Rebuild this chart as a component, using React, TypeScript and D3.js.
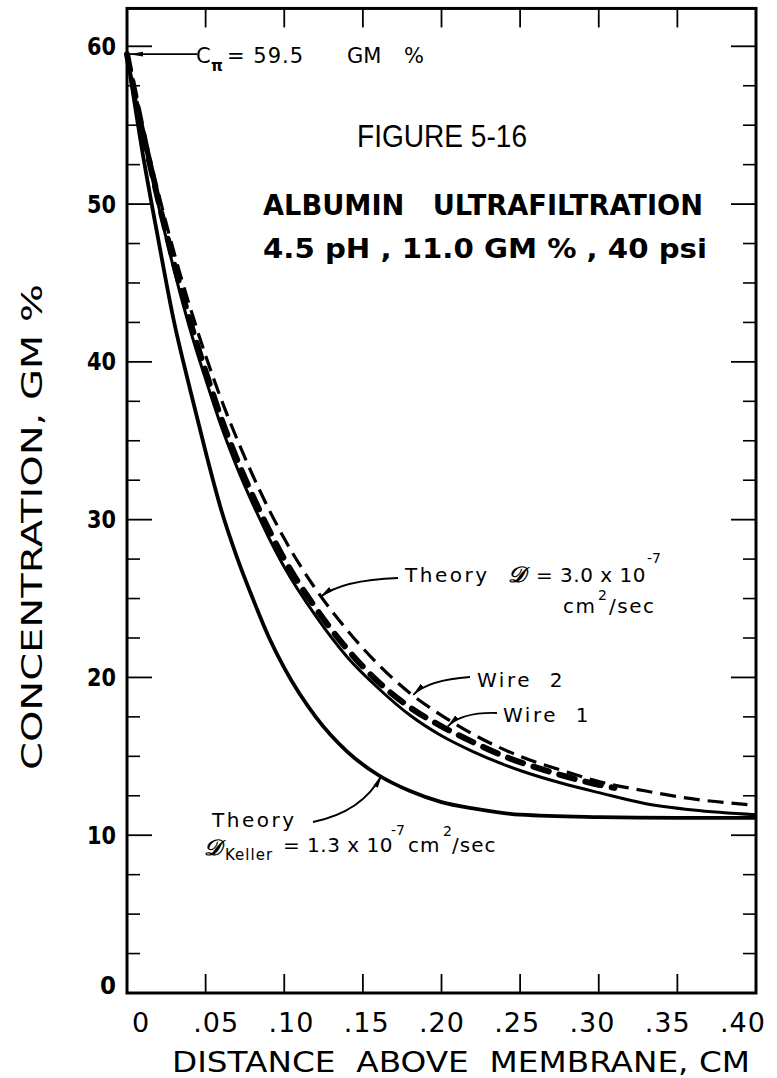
import React from "react";
import * as d3 from "d3";

const W = 777;
const H = 1078;

// ---- axis ticks ----
const xTickValues = [0, 0.05, 0.1, 0.15, 0.2, 0.25, 0.3, 0.35, 0.4];
const xTickLabels = ["0", ".05", ".10", ".15", ".20", ".25", ".30", ".35", ".40"];
const yMajorValues = [0, 10, 20, 30, 40, 50, 60];
const yMajorLabels = ["0", "10", "20", "30", "40", "50", "60"];
const yMinorValues = [2.5, 5, 7.5, 12.5, 15, 17.5, 22.5, 25, 27.5, 32.5, 35, 37.5, 42.5, 45, 47.5, 52.5, 55, 57.5];

// ---- series (distance cm, concentration GM %) ----
const kellerX = [0, 0.01, 0.02, 0.03, 0.04, 0.05, 0.06, 0.07, 0.08, 0.09, 0.1, 0.12, 0.14, 0.16, 0.18, 0.2, 0.22, 0.25, 0.3, 0.35, 0.4];
const kellerC = [59.5, 53.2, 47.7, 42.5, 38.3, 34.3, 30.6, 27.6, 25.0, 22.6, 20.6, 17.5, 15.3, 13.8, 12.8, 12.1, 11.7, 11.3, 11.15, 11.1, 11.1];

const wire1X = [0, 0.01, 0.02, 0.03, 0.04, 0.05, 0.06, 0.07, 0.08, 0.09, 0.1, 0.12, 0.14, 0.16, 0.18, 0.2, 0.22, 0.25, 0.28, 0.3, 0.33, 0.36, 0.4];
const wire1C = [59.5, 54.4, 49.9, 45.8, 42.1, 38.9, 35.9, 33.3, 31.0, 28.9, 27.0, 23.9, 21.3, 19.3, 17.6, 16.3, 15.3, 14.1, 13.2, 12.7, 12.0, 11.6, 11.3];

const wire2X = [0, 0.01, 0.02, 0.03, 0.04, 0.05, 0.06, 0.07, 0.08, 0.09, 0.1, 0.12, 0.14, 0.16, 0.18, 0.2, 0.22, 0.24, 0.26, 0.28, 0.3, 0.31];
const wire2C = [59.5, 54.6, 50.2, 46.2, 42.6, 39.4, 36.4, 33.8, 31.5, 29.4, 27.5, 24.4, 21.8, 19.7, 18.1, 16.9, 15.9, 15.0, 14.3, 13.7, 13.2, 13.0];

const theoryX = [0, 0.01, 0.02, 0.03, 0.04, 0.05, 0.06, 0.07, 0.08, 0.09, 0.1, 0.12, 0.14, 0.16, 0.18, 0.2, 0.22, 0.25, 0.28, 0.3, 0.33, 0.36, 0.4];
const theoryC = [59.5, 54.9, 50.7, 46.9, 43.5, 40.4, 37.6, 35.1, 32.8, 30.7, 28.8, 25.6, 23.0, 20.8, 19.0, 17.6, 16.4, 15.0, 14.0, 13.4, 12.8, 12.3, 11.9];

const cPi = 59.5;

// annotation anchor points on curves [distance, concentration]
const theoryAnchor = [0.123, 25.1];
const wire2Anchor = [0.182, 18.9];
const wire1Anchor = [0.204, 16.9];
const kellerAnchor = [0.162, 13.8];

const FONT = "'DejaVu Sans', 'Liberation Sans', sans-serif";
const NARROW = "'Liberation Sans', 'DejaVu Sans', sans-serif";
const pre = { whiteSpace: "pre" } as React.CSSProperties;

export default function App() {
  const x = d3.scaleLinear().domain([0, 0.4]).range([127, 756]);
  const y = d3.scaleLinear().domain([0, 60]).range([993, 46.3]);
  const xLab = d3.scaleLinear().domain([0, 0.4]).range([141, 743]);
  const yTop = y(62.4);

  const line = d3
    .line<[number, number]>()
    .x((d) => x(d[0]))
    .y((d) => y(d[1]))
    .curve(d3.curveMonotoneX);

  const zip = (xs: number[], cs: number[]) => xs.map((v, i) => [v, cs[i]] as [number, number]);

  const kellerPath = line(zip(kellerX, kellerC)) || "";
  const wire1Path = line(zip(wire1X, wire1C)) || "";
  const wire2Path = line(zip(wire2X, wire2C)) || "";
  const theoryPath = line(zip(theoryX, theoryC)) || "";

  const L = x(0);
  const R = x(0.4);
  const B = y(0);

  const ta = [x(theoryAnchor[0]), y(theoryAnchor[1])];
  const w2a = [x(wire2Anchor[0]), y(wire2Anchor[1])];
  const w1a = [x(wire1Anchor[0]), y(wire1Anchor[1])];
  const ka = [x(kellerAnchor[0]), y(kellerAnchor[1])];

  return (
    <svg width={W} height={H} viewBox={`0 0 ${W} ${H}`} style={{ display: "block", position: "absolute", left: 0, top: 0, background: "#fff" }}>
      <defs>
        <marker id="arr" viewBox="0 0 14 6" refX="13" refY="3" markerWidth="14" markerHeight="6" markerUnits="userSpaceOnUse" orient="auto">
          <path d="M0,0.6 L14,3 L0,5.4 Z" fill="#000" />
        </marker>
      </defs>
      <rect x={0} y={0} width={W} height={H} fill="#fff" />

      {/* frame */}
      <rect x={L} y={yTop} width={R - L} height={B - yTop} fill="none" stroke="#000" strokeWidth={3} />

      {/* x ticks top & bottom */}
      {xTickValues.slice(1, -1).map((v) => (
        <g key={"xt" + v}>
          <line x1={x(v)} x2={x(v)} y1={B} y2={B - 19} stroke="#000" strokeWidth={1.8} />
          <line x1={x(v)} x2={x(v)} y1={yTop} y2={yTop + 19} stroke="#000" strokeWidth={1.8} />
        </g>
      ))}
      {/* y ticks */}
      {yMajorValues.slice(1).map((v) => (
        <g key={"ym" + v}>
          <line x1={L} x2={L + 25} y1={y(v)} y2={y(v)} stroke="#000" strokeWidth={1.8} />
          <line x1={R} x2={R - 25} y1={y(v)} y2={y(v)} stroke="#000" strokeWidth={1.8} />
        </g>
      ))}
      {yMinorValues.map((v) => (
        <g key={"yn" + v}>
          <line x1={L} x2={L + 13} y1={y(v)} y2={y(v)} stroke="#000" strokeWidth={1.6} />
          <line x1={R} x2={R - 13} y1={y(v)} y2={y(v)} stroke="#000" strokeWidth={1.6} />
        </g>
      ))}

      {/* tick labels */}
      {yMajorValues.map((v, i) => (
        <text key={"yl" + v} x={116} y={v === 0 ? y(v) + 1 : y(v) + 8.5} textAnchor="end" fontFamily={FONT} fontWeight="bold" fontSize={24} textLength={v === 0 ? 16 : 29} lengthAdjust="spacingAndGlyphs">
          {yMajorLabels[i]}
        </text>
      ))}
      {xTickValues.map((v, i) => (
        <text key={"xl" + v} x={xLab(v)} y={1032} textAnchor="middle" fontFamily={FONT} fontSize={27} letterSpacing={1}>
          {xTickLabels[i]}
        </text>
      ))}

      {/* axis titles */}
      <text x={172} y={1072} fontFamily={FONT} fontSize={29} textLength={578} lengthAdjust="spacingAndGlyphs" style={pre}>
        DISTANCE  ABOVE  MEMBRANE, CM
      </text>
      <text transform={`translate(42,527) rotate(-90)`} textAnchor="middle" fontFamily={FONT} fontSize={29} textLength={486} lengthAdjust="spacingAndGlyphs" style={pre}>
        CONCENTRATION, GM %
      </text>

      {/* curves */}
      <path d={kellerPath} fill="none" stroke="#000" strokeWidth={3.8} />
      <path d={wire1Path} fill="none" stroke="#000" strokeWidth={3} />
      <path d={wire2Path} fill="none" stroke="#000" strokeWidth={6} strokeDasharray="16 11" strokeLinecap="round" />
      <path d={theoryPath} fill="none" stroke="#000" strokeWidth={3.2} strokeDasharray="16 8" />

      {/* C pi annotation */}
      <line x1={197} y1={y(cPi)} x2={L + 3} y2={y(cPi)} stroke="#000" strokeWidth={1.8} markerEnd="url(#arr)" />
      <text y={63} fontFamily={FONT} fontSize={21}>
        <tspan x={196}>C</tspan>
        <tspan x={211} y={71} fontSize={15} fontWeight="bold">π</tspan>
        <tspan x={227} y={63} letterSpacing={1}>= 59.5</tspan>
        <tspan x={347}>GM</tspan>
        <tspan x={404}>%</tspan>
      </text>

      {/* title block */}
      <text x={357} y={147} fontFamily={NARROW} fontSize={31} textLength={170} lengthAdjust="spacingAndGlyphs">
        FIGURE 5-16
      </text>
      <text x={263} y={215} fontFamily={FONT} fontWeight="bold" fontSize={28} textLength={440} lengthAdjust="spacingAndGlyphs" style={pre}>
        ALBUMIN   ULTRAFILTRATION
      </text>
      <text x={263} y={258} fontFamily={FONT} fontWeight="bold" fontSize={27} textLength={444} lengthAdjust="spacingAndGlyphs" style={pre}>
        4.5 pH , 11.0 GM % , 40 psi
      </text>

      {/* Theory D = 3.0 annotation */}
      <path d={`M398,578 Q342,580 ${ta[0]},${ta[1]}`} fill="none" stroke="#000" strokeWidth={1.8} markerEnd="url(#arr)" />
      <text y={582} fontFamily={FONT} fontSize={20}>
        <tspan x={405} letterSpacing={2.5}>Theory</tspan>
        <tspan x={508} fontStyle="italic" fontWeight="bold" fontSize={22}>𝒟</tspan>
        <tspan x={536} letterSpacing={0.5}>= 3.0 x 10</tspan>
      </text>
      <text x={647} y={563} fontFamily={FONT} fontSize={14}>-7</text>
      <text y={613} fontFamily={FONT} fontSize={20} letterSpacing={1.5}>
        <tspan x={563}>cm</tspan>
        <tspan x={598} y={600} fontSize={14}>2</tspan>
        <tspan x={609} y={613}>/sec</tspan>
      </text>

      {/* Wire labels */}
      <path d={`M470,677 Q428,680 ${w2a[0]},${w2a[1]}`} fill="none" stroke="#000" strokeWidth={1.8} markerEnd="url(#arr)" />
      <text x={477} y={687} fontFamily={FONT} fontSize={20} letterSpacing={2.5} style={pre}>Wire  2</text>
      <path d={`M497,713 Q462,712 ${w1a[0]},${w1a[1]}`} fill="none" stroke="#000" strokeWidth={1.8} markerEnd="url(#arr)" />
      <text x={503} y={722} fontFamily={FONT} fontSize={20} letterSpacing={2.5} style={pre}>Wire  1</text>

      {/* Keller annotation */}
      <path d={`M313,822 Q362,812 ${ka[0]},${ka[1]}`} fill="none" stroke="#000" strokeWidth={1.8} markerEnd="url(#arr)" />
      <text x={212} y={827} fontFamily={FONT} fontSize={20} letterSpacing={2.5}>Theory</text>
      <text y={852} fontFamily={FONT} fontSize={20}>
        <tspan x={204} y={855} fontStyle="italic" fontWeight="bold" fontSize={22}>𝒟</tspan>
        <tspan x={225} y={860} fontSize={15} letterSpacing={1}>Keller</tspan>
        <tspan x={283} y={852} letterSpacing={0.5}>= 1.3 x 10</tspan>
      </text>
      <text x={391} y={835} fontFamily={FONT} fontSize={14}>-7</text>
      <text y={852} fontFamily={FONT} fontSize={20} letterSpacing={1}>
        <tspan x={408}>cm</tspan>
        <tspan x={443} y={836} fontSize={14}>2</tspan>
        <tspan x={452} y={852}>/sec</tspan>
      </text>
    </svg>
  );
}
